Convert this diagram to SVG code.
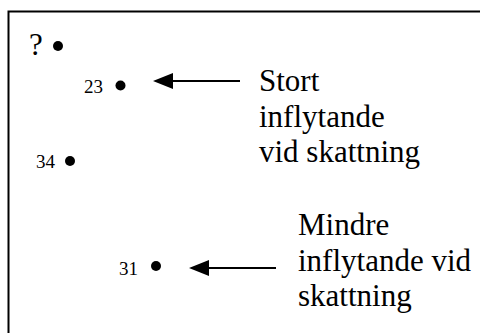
<svg xmlns="http://www.w3.org/2000/svg" width="480" height="333" viewBox="0 0 480 333">
<style>
text{font-family:"Liberation Serif",Tinos,"Times New Roman",Times,"Nimbus Roman","DejaVu Serif",serif;fill:#000}
.big{font-size:31px}
.num{font-size:19px}
.dot{fill:#000}
.ln{stroke:#000;stroke-width:2;fill:none}
</style>
<rect x="0" y="0" width="480" height="333" fill="#fff"/>
<rect x="8.5" y="11.5" width="490" height="340" fill="none" stroke="#000" stroke-width="2"/>
<g id="q"><text class="big" x="29" y="55">?</text><circle class="dot" cx="58" cy="46" r="5"/></g>
<g id="n23"><text class="num" x="84" y="93">23</text><circle class="dot" cx="120.5" cy="85.5" r="5"/></g>
<g id="n34"><text class="num" x="36" y="168">34</text><circle class="dot" cx="70" cy="161" r="5"/></g>
<g id="n31"><text class="num" x="119" y="275">31</text><circle class="dot" cx="156" cy="266" r="5"/></g>
<g id="l1"><text class="big"><tspan x="259" y="91">Stort</tspan><tspan x="259" y="127">inflytande</tspan><tspan x="259" y="162">vid skattning</tspan></text></g>
<g id="l2"><text class="big"><tspan x="298" y="235">Mindre</tspan><tspan x="298" y="271">inflytande vid</tspan><tspan x="298" y="306">skattning</tspan></text></g>
<g id="connectors">
<line class="ln" x1="172" y1="81" x2="240" y2="81"/><polygon points="153,81 173,73 173,89" fill="#000"/>
<line class="ln" x1="208" y1="268" x2="276" y2="268"/><polygon points="189,268 209,260 209,276" fill="#000"/>
</g>
</svg>
